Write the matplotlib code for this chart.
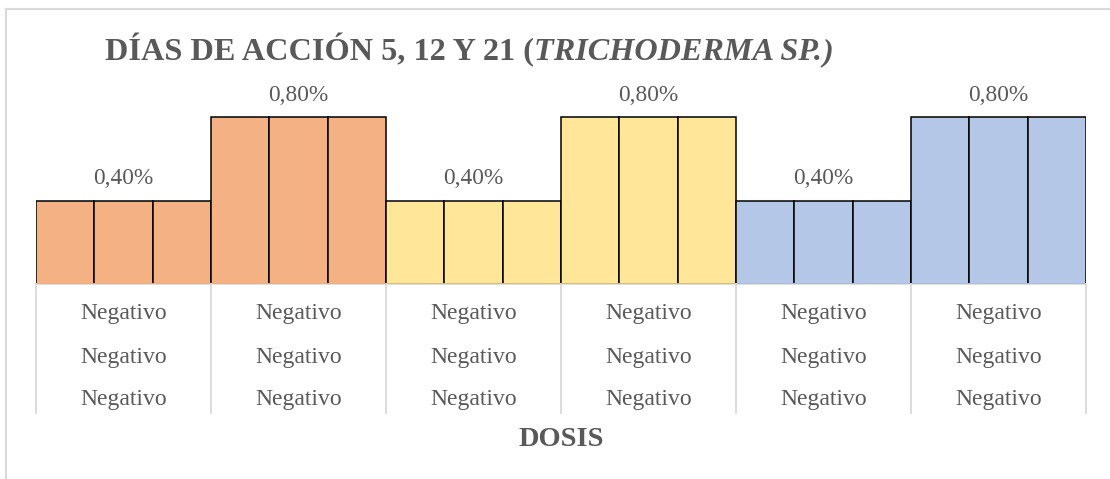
import matplotlib

matplotlib.use("Agg")
import matplotlib.pyplot as plt
import matplotlib.transforms as mtransforms
from matplotlib.lines import Line2D
import numpy as np

# --- data -------------------------------------------------------------
groups = ["g1", "g2", "g3", "g4", "g5", "g6"]
values = [0.4, 0.4, 0.4, 0.8, 0.8, 0.8,
          0.4, 0.4, 0.4, 0.8, 0.8, 0.8,
          0.4, 0.4, 0.4, 0.8, 0.8, 0.8]
group_labels = ["0,40%", "0,80%", "0,40%", "0,80%", "0,40%", "0,80%"]
row_labels = ["Negativo", "Negativo", "Negativo"]
group_colors = ["#F4B183", "#F4B183", "#FFE699", "#FFE699", "#B4C7E7", "#B4C7E7"]
title_main = "DÍAS DE ACCIÓN 5, 12 Y 21 ("
title_ital = "TRICHODERMA SP."
title_end = ")"
xlabel = "DOSIS"

W, H = 1110, 479
TXT = "#595959"
GRID = "#D9D9D9"
SERIF = "Liberation Serif"

fig = plt.figure(figsize=(W / 100, H / 100), dpi=100)

# plot area in pixels: x 36..1086, baseline y=284, 0.8 -> y=117
x0, x1, base, ymax_px = 36, 1086, 284, 284 - 167 / 0.8
ax = fig.add_axes([x0 / W, (H - base) / H, (x1 - x0) / W, (base - ymax_px) / H])

n_per = 3
colors = [c for c in group_colors for _ in range(n_per)]
xs = np.arange(len(values))
ax.bar(xs, values, width=1.0, align="edge", color=colors,
       edgecolor="black", linewidth=1.1, zorder=2)
ax.set_xlim(0, len(values))
ax.set_ylim(0, 1.0)
ax.set_xticks([])
ax.set_yticks([])
for s in ["top", "left", "right"]:
    ax.spines[s].set_visible(False)
ax.spines["bottom"].set_color(GRID)
ax.spines["bottom"].set_linewidth(1.2)
ax.spines["bottom"].set_zorder(3)

# data labels above middle bar of each group
for i, lab in enumerate(group_labels):
    xc = i * n_per + n_per / 2
    ax.annotate(lab, xy=(xc, values[i * n_per + 1]), xytext=(0, 15.5),
                textcoords="offset points", ha="center", va="center",
                fontsize=16.8, family=SERIF, color=TXT)

# multi-level category axis below
tr = mtransforms.blended_transform_factory(ax.transData, fig.transFigure)
for k in range(len(groups) + 1):
    ax.add_line(Line2D([k * n_per, k * n_per], [(H - base) / H, (H - 413) / H],
                       transform=tr, color=GRID, lw=1.3, clip_on=False))
row_y = [314, 357, 400]
for i in range(len(groups)):
    xc = i * n_per + n_per / 2
    for ry, rl in zip(row_y, row_labels):
        ax.text(xc, (H - ry) / H, rl, transform=tr, ha="center", va="center",
                fontsize=17, family=SERIF, color=TXT)

fig.text((x0 + x1) / 2 / W, (H - 439) / H, xlabel, ha="center", va="center",
         fontsize=20.5, family=SERIF, weight="bold", color=TXT)

# title with italic species name
t1 = fig.text(105 / W, (H - 60) / H, title_main, ha="left", va="baseline",
              fontsize=23.2, family=SERIF, weight="bold", color=TXT)
a2 = ax.annotate(title_ital, xy=(1, 0), xycoords=t1, ha="left", va="bottom",
                 fontsize=23.2, family=SERIF, weight="bold", style="italic",
                 color=TXT, annotation_clip=False)
ax.annotate(title_end, xy=(1, 0), xycoords=a2, ha="left", va="bottom",
            fontsize=23.2, family=SERIF, weight="bold", style="italic",
            color=TXT, annotation_clip=False)

# chart border (left and top visible)
fig.add_artist(Line2D([6 / W, 6 / W], [-0.1, (H - 9) / H], color=GRID, lw=1.5))
fig.add_artist(Line2D([6 / W, 1.1], [(H - 9) / H, (H - 9) / H], color=GRID, lw=1.5))

fig.savefig("out.png", dpi=100, facecolor="white")
